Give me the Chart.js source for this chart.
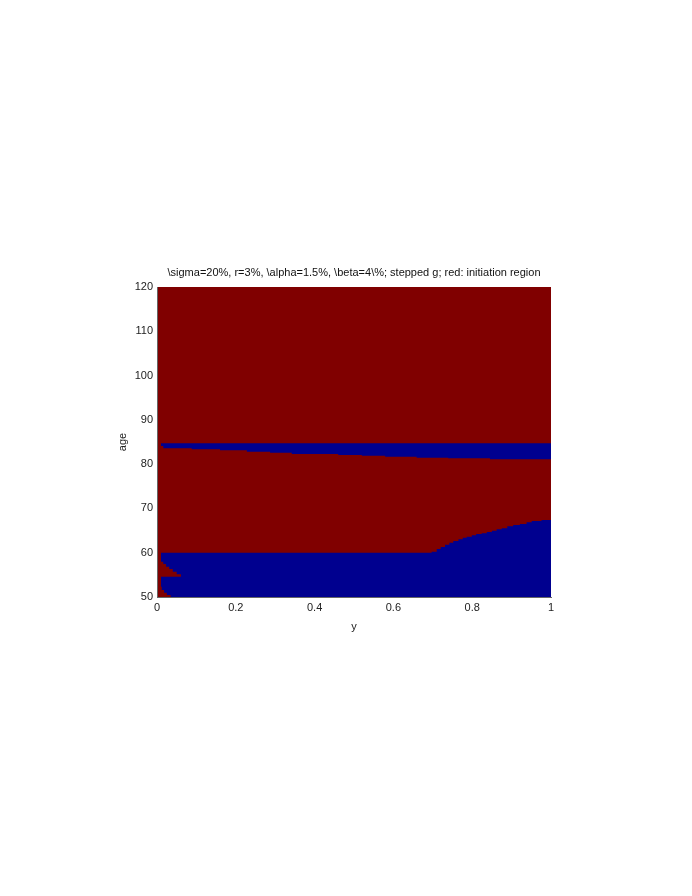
<!DOCTYPE html>
<html>
<head>
<meta charset="utf-8">
<title>initiation region</title>
<script src="https://cdn.jsdelivr.net/npm/chart.js@4.4.1/dist/chart.umd.min.js"></script>
<style>
  html, body { margin: 0; padding: 0; background: #fff; }
  #wrap { width: 692px; height: 896px; }
</style>
</head>
<body>
<div id="wrap"><canvas id="regionChart" width="692" height="896"></canvas></div>
<script>
// ─── Data ────────────────────────────────────────────────────
const TITLE  = '\\sigma=20%, r=3%, \\alpha=1.5%, \\beta=4\\%; stepped g; red: initiation region';
const xTicks = [0, 0.2, 0.4, 0.6, 0.8, 1];
const yTicks = [50, 60, 70, 80, 90, 100, 110, 120];

// whole window starts red
const baseX   = [0, 1];
const baseAge = [120, 120];

// blue band near age 81-85
const bandTopX   = [0.01, 1];
const bandTopAge = [84.71, 84.71];
const bandLowX   = [0.01, 0.016, 0.088, 0.16, 0.228, 0.287, 0.342, 0.46, 0.52, 0.579, 0.659, 0.739, 0.845, 1];
const bandLowAge = [84.10, 83.58, 83.35, 83.13, 82.81, 82.58, 82.29, 82.06, 81.91, 81.68, 81.46, 81.32, 81.09, 81.09];

// top of the lower blue block
const lowBlueX   = [0.01, 0.697, 0.710, 0.720, 0.731, 0.742, 0.752, 0.765, 0.776, 0.786, 0.799, 0.810,
                    0.824, 0.837, 0.850, 0.862, 0.875, 0.889, 0.904, 0.921, 0.938, 0.951, 0.976, 1];
const lowBlueAge = [60, 60.23, 60.84, 61.29, 61.81, 62.26, 62.65, 63.03, 63.39, 63.62, 63.93, 64.23,
                    64.38, 64.68, 64.97, 65.29, 65.51, 65.96, 66.26, 66.48, 66.87, 67.16, 67.39, 67.39];

// red wedges at small y
const wedgeHiX   = [0, 0.016, 0.023, 0.031, 0.040, 0.050, 0.061];
const wedgeHiAge = [57.97, 57.45, 56.84, 56.32, 55.71, 55.13, 55.13];
const gapX       = [0.01, 0.061];
const gapAge     = [54.58, 54.58];
const wedgeLoX   = [0, 0.012, 0.018, 0.025, 0.035];
const wedgeLoAge = [52.33, 51.58, 50.97, 50.45, 50.45];

const RED  = '#800000';
const BLUE = '#00008f';

// ─── Helpers ─────────────────────────────────────────────────
const pts = (xs, ys) => xs.map((x, i) => ({ x, y: ys[i] }));

function layer(xs, ys, color) {
  return {
    data: pts(xs, ys),
    backgroundColor: color,
    borderColor: 'rgba(0,0,0,0)',
    borderWidth: 0,
    pointRadius: 0,
    stepped: 'before',
    fill: 'start',
  };
}

// first dataset is painted last (on top)
const datasets = [
  layer(wedgeLoX, wedgeLoAge, RED),
  layer(gapX, gapAge, BLUE),
  layer(wedgeHiX, wedgeHiAge, RED),
  layer(lowBlueX, lowBlueAge, BLUE),
  layer(bandLowX, bandLowAge, RED),
  layer(bandTopX, bandTopAge, BLUE),
  layer(baseX, baseAge, RED),
];

const font = { family: '"Liberation Sans", Arial, sans-serif', size: 11 };

new Chart(document.getElementById('regionChart'), {
  type: 'line',
  data: { datasets },
  options: {
    responsive: false,
    animation: false,
    events: [],
    layout: { padding: { top: 266, left: 116, right: 141, bottom: 262 } },
    plugins: {
      legend: { display: false },
      tooltip: { enabled: false },
      title: {
        display: true,
        text: TITLE,
        fullSize: false,
        color: '#111',
        font: { ...font, weight: 'normal' },
        padding: { top: 0, bottom: 7.8 },
      },
    },
    scales: {
      x: {
        type: 'linear',
        min: 0, max: 1,
        afterBuildTicks: s => { s.ticks = xTicks.map(v => ({ value: v })); },
        afterFit: s => { s.height = 37; },
        grid: { display: false, drawTicks: false },
        border: { color: '#666', z: 1 },
        ticks: { color: '#222', font, padding: 4, maxRotation: 0, autoSkip: false, callback: v => `${v}` },
        title: { display: true, text: 'y', color: '#222', font, padding: 0 },
      },
      y: {
        type: 'linear',
        min: 50, max: 120,
        afterBuildTicks: s => { s.ticks = yTicks.map(v => ({ value: v })); },
        afterFit: s => { s.width = 41; },
        grid: { display: false, drawTicks: false },
        border: { color: '#666', z: 1 },
        ticks: { color: '#222', font, padding: 4, autoSkip: false, callback: v => `${v}` },
        title: { display: true, text: 'age', color: '#222', font, padding: 0 },
      },
    },
  },
});
</script>
</body>
</html>
